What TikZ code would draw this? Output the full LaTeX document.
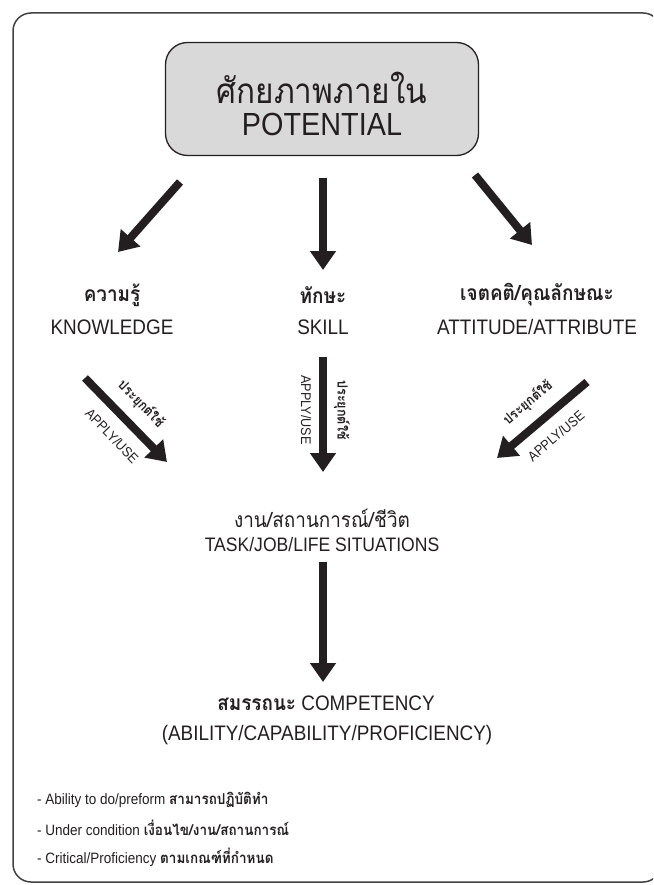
\documentclass[tikz,border=0pt]{standalone}
\usepackage{fontspec}
\setmainfont{Liberation Sans}[FakeStretch=0.9]
\newfontfamily\thai[Script=Thai,FakeStretch=0.9]{Loma}
\usetikzlibrary{arrows.meta,calc}
\definecolor{ink}{HTML}{231F20}
\definecolor{boxfill}{HTML}{D9D9D9}
\begin{document}
\begin{tikzpicture}[x=1pt,y=-1pt,
  txt/.style={inner sep=0pt, text=ink},
  big/.style={txt, font=\fontsize{32}{36}\selectfont},
  bigth/.style={txt, font=\thai\fontsize{35}{40}\selectfont},
  lab/.style={txt, font=\fontsize{21}{24}\selectfont},
  labth/.style={txt, font=\thai\bfseries\fontsize{21}{24}\selectfont},
  small/.style={txt, font=\fontsize{14}{16}\selectfont},
  smallth/.style={txt, font=\thai\bfseries\fontsize{14}{16}\selectfont},
  note/.style={txt, anchor=west, font=\fontsize{15}{18}\selectfont},
  fat/.style={draw=ink, line width=8pt, -{Triangle[length=19pt,width=25pt]}},
  topbox/.style={draw=ink, line width=1.3pt, fill=boxfill, rounded corners=22pt,
    minimum width=313pt, minimum height=113pt, inner sep=0pt}
]
\useasboundingbox (0,0) rectangle (653,885);
\begin{scope}
  \clip (0,0) rectangle (653,885);
  \draw[ink!85, line width=1.5pt, rounded corners=18pt] (13,13) rectangle (661,882);
\end{scope}

% top box
\node[topbox] (pot) at (322,99) {};
\node[bigth] (potth) at (322,88) {ศักยภาพภายใน};
\node[big] (poten) at (322,124) {POTENTIAL};

% three categories
\node[labth] (kth) at (112,295) {ความรู้};
\node[lab]   (ken) at (112,327) {KNOWLEDGE};
\node[labth] (sth) at (323,295) {ทักษะ};
\node[lab]   (sen) at (323,327) {SKILL};
\node[labth] (ath) at (537,295) {เจตคติ/คุณลักษณะ};
\node[lab]   (aen) at (537,327) {ATTITUDE/ATTRIBUTE};

% first arrows
\coordinate (a1s) at (180,182); \coordinate (a1e) at (118,252);
\coordinate (a2s) at (323,178); \coordinate (a2e) at (323,270);
\coordinate (a3s) at (475,175); \coordinate (a3e) at (532,245);
\draw[fat] (a1s) -- (a1e);
\draw[fat] (a2s) -- (a2e);
\draw[fat] (a3s) -- (a3e);

% second arrows
\coordinate (b1s) at (85,378);  \coordinate (b1e) at (167,462);
\coordinate (b2s) at (323,357); \coordinate (b2e) at (323,472);
\coordinate (b3s) at (587,382); \coordinate (b3e) at (497,458);
\draw[fat] (b1s) -- (b1e);
\draw[fat] (b2s) -- (b2e);
\draw[fat] (b3s) -- (b3e);

\node[smallth, rotate=-45.7] (l1th) at (141,404) {ประยุกต์ใช้};
\node[small,   rotate=-45.7] (l1en) at (112,436) {APPLY/USE};
\node[smallth, rotate=-90]   (l2th) at (342,410) {ประยุกต์ใช้};
\node[small,   rotate=-90]   (l2en) at (306,410) {APPLY/USE};
\node[smallth, rotate=40.2]  (l3th) at (528,403) {ประยุกต์ใช้};
\node[small,   rotate=40.2]  (l3en) at (556,436) {APPLY/USE};

% situations
\node[txt, font=\thai\fontsize{21}{24}\selectfont] (tth) at (322,518) {งาน/สถานการณ์/ชีวิต};
\node[txt, font=\fontsize{19.5}{24}\selectfont] (ten) at (322,545) {TASK/JOB/LIFE SITUATIONS};

\coordinate (c1s) at (323,562); \coordinate (c1e) at (323,682);
\draw[fat] (c1s) -- (c1e);

% competency
\node[lab] (comp) at (326,703) {{\thai\bfseries สมรรถนะ} COMPETENCY};
\node[lab] (abil) at (327,735) {(ABILITY/CAPABILITY/PROFICIENCY)};

% notes
\node[note] (n1) at (37,800) {- Ability to do/preform {\thai\bfseries สามารถปฏิบัติทำ}};
\node[note] (n2) at (37,828) {- Under condition {\thai\bfseries เงื่อนไข/งาน/สถานการณ์}};
\node[note] (n3) at (37,857) {- Critical/Proficiency {\thai\bfseries ตามเกณฑ์ที่กำหนด}};
\end{tikzpicture}
\end{document}
